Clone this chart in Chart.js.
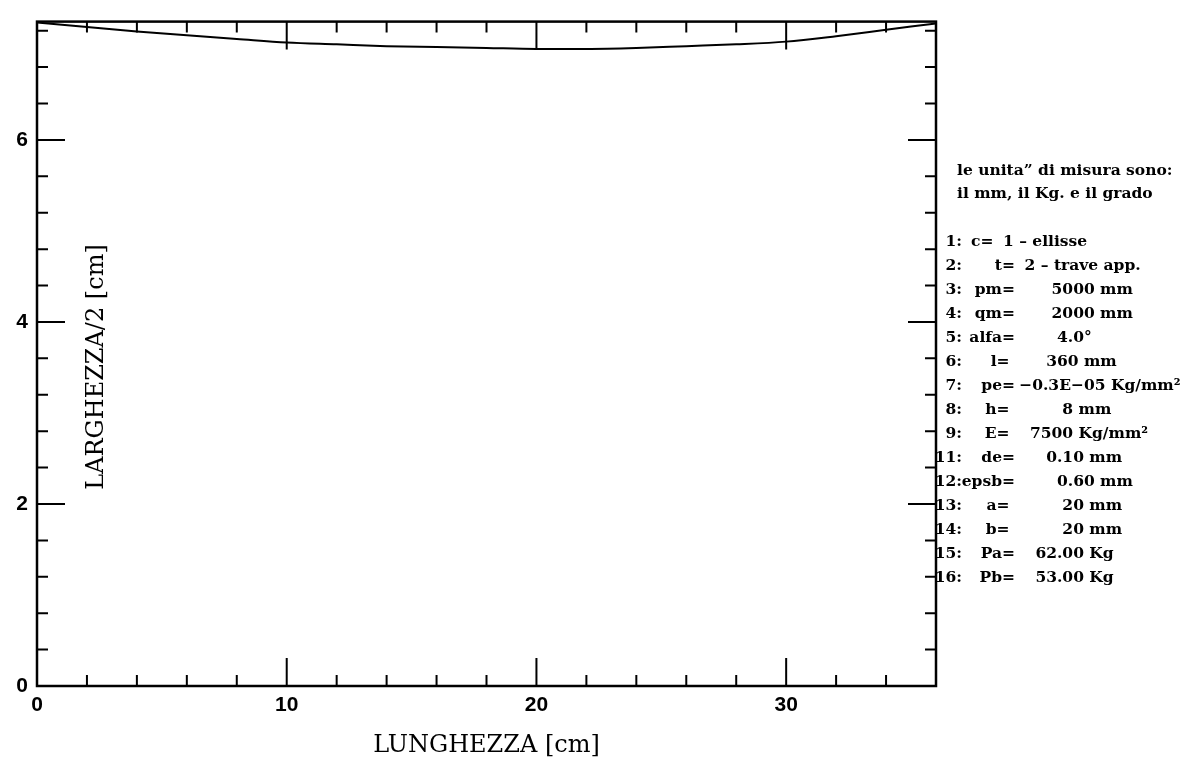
<!DOCTYPE html>
<html>
<head>
<meta charset="utf-8">
<script src="https://cdn.jsdelivr.net/npm/chart.js@4/dist/chart.umd.min.js"></script>
<style>
  body { margin: 0; background: #fff; }
  #wrap { position: relative; width: 1181px; height: 762px; }
  #note { position: absolute; left: 0; top: 0; width: 1181px; height: 762px; font: bold 15.5px "DejaVu Serif"; color: #000; }
  #note div { position: absolute; white-space: pre; line-height: 18px; }
</style>
</head>
<body>
<div id="wrap">
  <canvas id="grafico" width="1181" height="762"></canvas>
  <div id="note"></div>
</div>
<script>
// profilo della trave: lunghezza [cm] e larghezza/2 [cm]
var lunghezza = [0, 2, 4, 6, 8, 10, 12, 14, 16, 18, 20, 22, 24, 26, 28, 30, 32, 34, 36];
var larghezza = [7.29, 7.24, 7.19, 7.15, 7.11, 7.07, 7.05, 7.03, 7.02, 7.01, 7.00, 7.00, 7.01, 7.03, 7.05, 7.08, 7.14, 7.21, 7.28];

var xTicks = [0, 10, 20, 30];
var yTicks = [0, 2, 4, 6];

// testo a destra del grafico
var noteHead = ['le unita\u201d di misura sono:', 'il mm, il Kg. e il grado'];
var noteNum = ['1:', '2:', '3:', '4:', '5:', '6:', '7:', '8:', '9:', '11:', '12:', '13:', '14:', '15:', '16:'];
var noteKey = ['c=    ', 't=', 'pm=', 'qm=', 'alfa=', 'l= ', 'pe=', 'h= ', 'E= ', 'de=', 'epsb=', 'a= ', 'b= ', 'Pa=', 'Pb='];
var noteVal = ['1 \u2013 ellisse', '    2 \u2013 trave app.', '         5000 mm', '         2000 mm', '          4.0\u00b0',
  '        360 mm', '   \u22120.3E\u221205 Kg/mm\u00b2', '           8 mm', '     7500 Kg/mm\u00b2', '        0.10 mm',
  '          0.60 mm', '           20 mm', '           20 mm', '      62.00 Kg', '      53.00 Kg'];

var note = document.getElementById('note');
function riga(testo, css) {
  var d = document.createElement('div');
  d.textContent = testo;
  for (var k in css) d.style[k] = css[k];
  note.appendChild(d);
}
noteHead.forEach(function (t, i) {
  riga(t, { left: '957px', top: (161 + i * 23) + 'px' });
});
noteNum.forEach(function (n, i) {
  var top = (232 + i * 24) + 'px';
  riga(n, { right: (1181 - 962) + 'px', top: top });
  riga(noteKey[i], { right: (1181 - 1015) + 'px', top: top });
  riga(noteVal[i], { left: '1003px', top: top });
});

// cornice, tacche interne e titolo asse y dentro il grafico
var cornice = {
  id: 'cornice',
  afterDatasetsDraw: function (chart) {
    var ctx = chart.ctx, a = chart.chartArea, sx = chart.scales.x, sy = chart.scales.y;
    ctx.save();
    ctx.strokeStyle = '#000';
    ctx.lineWidth = 2.5;
    ctx.strokeRect(a.left, a.top, a.right - a.left, a.bottom - a.top);
    ctx.lineWidth = 2;
    ctx.beginPath();
    for (var v = 2; v < 36; v += 2) {
      var px = sx.getPixelForValue(v), len = v % 10 === 0 ? 28 : 11;
      ctx.moveTo(px, a.bottom); ctx.lineTo(px, a.bottom - len);
      ctx.moveTo(px, a.top); ctx.lineTo(px, a.top + len);
    }
    for (var i = 1; i * 0.4 < 7.3; i++) {
      var py = sy.getPixelForValue(i * 0.4), l = i % 5 === 0 ? 28 : 11;
      ctx.moveTo(a.left, py); ctx.lineTo(a.left + l, py);
      ctx.moveTo(a.right, py); ctx.lineTo(a.right - l, py);
    }
    ctx.stroke();
    ctx.translate(97, 367);
    ctx.rotate(-Math.PI / 2);
    ctx.fillStyle = '#000';
    ctx.font = '24px "DejaVu Serif"';
    ctx.textAlign = 'center';
    ctx.textBaseline = 'middle';
    ctx.fillText('LARGHEZZA/2 [cm]', 0, 0);
    ctx.restore();
  }
};

var ctx = document.getElementById('grafico').getContext('2d');
var grafico = new Chart(ctx, {
  type: 'line',
  data: {
    datasets: [{
      data: lunghezza.map(function (x, i) { return { x: x, y: larghezza[i] }; }),
      borderColor: '#000',
      borderWidth: 2,
      pointRadius: 0,
      fill: false,
      cubicInterpolationMode: 'monotone'
    }]
  },
  options: {
    responsive: false,
    animation: false,
    layout: { padding: { top: 21, right: 245, left: 0, bottom: 0 } },
    plugins: { legend: { display: false }, tooltip: { enabled: false } },
    scales: {
      x: {
        type: 'linear',
        min: 0,
        max: 36,
        grid: { display: false, drawTicks: false },
        border: { display: false },
        afterBuildTicks: function (s) { s.ticks = xTicks.map(function (v) { return { value: v }; }); },
        afterFit: function (s) { s.height = 76; },
        ticks: { color: '#000', padding: 7, maxRotation: 0, font: { family: 'Liberation Sans', weight: 'bold', size: 21 } },
        title: { display: true, text: 'LUNGHEZZA [cm]', color: '#000', padding: { top: 0, bottom: 2 },
          font: { family: 'DejaVu Serif', size: 24 } }
      },
      y: {
        type: 'linear',
        min: 0,
        max: 7.3,
        grid: { display: false, drawTicks: false },
        border: { display: false },
        afterBuildTicks: function (s) { s.ticks = yTicks.map(function (v) { return { value: v }; }); },
        afterFit: function (s) { s.width = 37; },
        ticks: { color: '#000', padding: 9, font: { family: 'Liberation Sans', weight: 'bold', size: 21 } }
      }
    }
  },
  plugins: [cornice]
});
</script>
</body>
</html>
